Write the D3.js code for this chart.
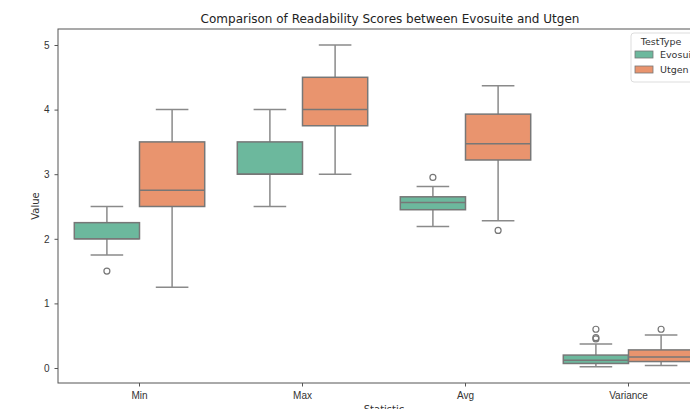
<!DOCTYPE html>
<html>
<head>
<meta charset="utf-8">
<script src="https://cdn.jsdelivr.net/npm/d3@7"></script>
<style>
  body { margin: 0; background: #fff; }
  svg { font-family: "DejaVu Sans", sans-serif; }
</style>
</head>
<body>
<div id="chart"></div>
<script>
// categories and groups
var statistics = ["Min", "Max", "Avg", "Variance"];
var testTypes = ["Evosuite", "Utgen"];
var yTicks = [0, 1, 2, 3, 4, 5];

// box stats: [whiskerLow, q1, median, q3, whiskerHigh]
var evosuiteBoxes = [
  [1.75, 2.0, 2.0, 2.25, 2.5],
  [2.5, 3.0, 3.0, 3.5, 4.0],
  [2.19, 2.45, 2.56, 2.65, 2.81],
  [0.02, 0.07, 0.12, 0.2, 0.37]
];
var utgenBoxes = [
  [1.25, 2.5, 2.75, 3.5, 4.0],
  [3.0, 3.75, 4.0, 4.5, 5.0],
  [2.28, 3.22, 3.47, 3.93, 4.37],
  [0.04, 0.1, 0.17, 0.28, 0.51]
];
// outliers
var evosuiteOutliers = [[1.5], [], [2.95], [0.45, 0.47, 0.6]];
var utgenOutliers = [[], [], [2.13], [0.6]];

var colors = ["#6cb89d", "#e9946e"];

var margin = {top: 29, right: -20, bottom: 26, left: 58},
    width = 690 - margin.left - margin.right,
    height = 409 - margin.top - margin.bottom;

var svg = d3.select("#chart")
  .append("svg")
    .attr("width", 690)
    .attr("height", 409);

var g = svg.append("g")
    .attr("transform", "translate(" + margin.left + "," + margin.top + ")");

// y: 0 at 339px, 5 at 16px inside plot
var y = d3.scaleLinear()
    .domain([0, 5])
    .range([339, 16]);

var x = d3.scaleBand()
    .domain(statistics)
    .range([0, width]);

var xGroup = d3.scaleBand()
    .domain(testTypes)
    .range([x.bandwidth() * 0.1, x.bandwidth() * 0.9]);

// frame
g.append("rect")
  .attr("x", 0).attr("y", 0)
  .attr("width", width).attr("height", height)
  .attr("fill", "none")
  .attr("stroke", "#555")
  .attr("stroke-width", 1);

// axes
var yAxis = g.append("g")
  .call(d3.axisLeft(y).tickValues(yTicks).tickFormat(d3.format("d")).tickSize(3.5).tickPadding(5));
yAxis.select(".domain").remove();
yAxis.selectAll("text").attr("font-size", 10).attr("fill", "#333");
yAxis.selectAll("line").attr("stroke", "#555");

var xAxis = g.append("g")
  .attr("transform", "translate(0," + height + ")")
  .call(d3.axisBottom(x).tickSize(3.5).tickPadding(5));
xAxis.select(".domain").remove();
xAxis.selectAll("text").attr("font-size", 10).attr("fill", "#333");
xAxis.selectAll("line").attr("stroke", "#555");

// labels
svg.append("text")
  .attr("x", 390).attr("y", 23)
  .attr("text-anchor", "middle")
  .attr("font-size", 12)
  .attr("fill", "#222")
  .text("Comparison of Readability Scores between Evosuite and Utgen");

svg.append("text")
  .attr("transform", "translate(39," + (margin.top + height / 2) + ") rotate(-90)")
  .attr("text-anchor", "middle")
  .attr("font-size", 10)
  .attr("fill", "#333")
  .text("Value");

svg.append("text")
  .attr("x", margin.left + width / 2).attr("y", 413)
  .attr("text-anchor", "middle")
  .attr("font-size", 10)
  .attr("fill", "#333")
  .text("Statistic");

// boxes
var series = [
  {name: "Evosuite", boxes: evosuiteBoxes, outliers: evosuiteOutliers},
  {name: "Utgen", boxes: utgenBoxes, outliers: utgenOutliers}
];

series.forEach(function (s, si) {
  statistics.forEach(function (stat, i) {
    var b = s.boxes[i];
    var x0 = x(stat) + xGroup(s.name);
    var w = xGroup.bandwidth();
    var cx = x0 + w / 2;
    var box = g.append("g");

    // whiskers
    box.append("line")
      .attr("x1", cx).attr("x2", cx)
      .attr("y1", y(b[0])).attr("y2", y(b[1]))
      .attr("stroke", "#8a8a8a").attr("stroke-width", 1.5);
    box.append("line")
      .attr("x1", cx).attr("x2", cx)
      .attr("y1", y(b[3])).attr("y2", y(b[4]))
      .attr("stroke", "#8a8a8a").attr("stroke-width", 1.5);
    [b[0], b[4]].forEach(function (v) {
      box.append("line")
        .attr("x1", cx - w / 4).attr("x2", cx + w / 4)
        .attr("y1", y(v)).attr("y2", y(v))
        .attr("stroke", "#8a8a8a").attr("stroke-width", 1.5);
    });

    box.append("rect")
      .attr("x", x0).attr("y", y(b[3]))
      .attr("width", w).attr("height", y(b[1]) - y(b[3]))
      .attr("fill", colors[si])
      .attr("stroke", "#777").attr("stroke-width", 1.5);

    box.append("line")
      .attr("x1", x0).attr("x2", x0 + w)
      .attr("y1", y(b[2])).attr("y2", y(b[2]))
      .attr("stroke", "#777").attr("stroke-width", 1.5);

    s.outliers[i].forEach(function (v) {
      box.append("circle")
        .attr("cx", cx).attr("cy", y(v))
        .attr("r", 3)
        .attr("fill", "none")
        .attr("stroke", "#777").attr("stroke-width", 1.2);
    });
  });
});

// legend
var legend = svg.append("g").attr("transform", "translate(631,33)");
legend.append("rect")
  .attr("x", 0).attr("y", 0).attr("width", 80).attr("height", 49)
  .attr("rx", 3)
  .attr("fill", "#fff").attr("fill-opacity", 0.8)
  .attr("stroke", "#ddd");
legend.append("text")
  .attr("x", 30).attr("y", 12)
  .attr("text-anchor", "middle")
  .attr("font-size", 9.5).attr("fill", "#333")
  .text("TestType");
testTypes.forEach(function (t, i) {
  legend.append("rect")
    .attr("x", 4).attr("y", 18 + i * 15)
    .attr("width", 18).attr("height", 7)
    .attr("fill", colors[i]).attr("stroke", "#777").attr("stroke-width", 0.8);
  legend.append("text")
    .attr("x", 29).attr("y", 25 + i * 15)
    .attr("font-size", 9.5).attr("fill", "#333")
    .text(t);
});
</script>
</body>
</html>
